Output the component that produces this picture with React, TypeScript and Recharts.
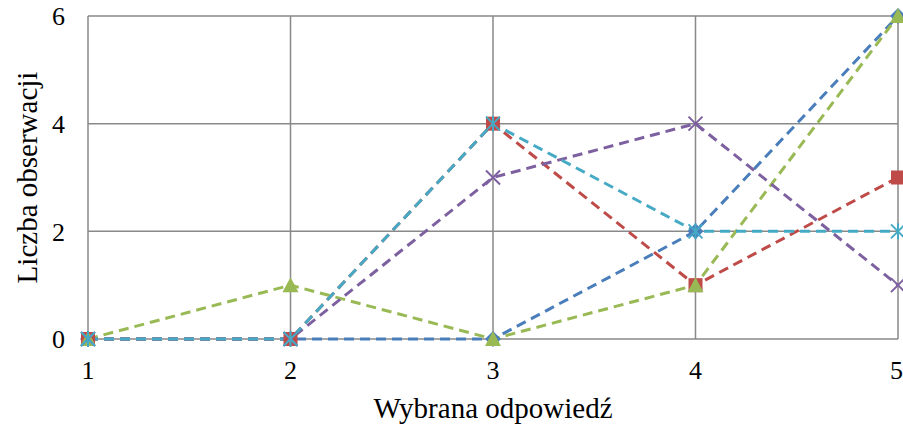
import { LineChart, Line, XAxis, YAxis, CartesianGrid } from 'recharts';

const ANSWERS = [1, 2, 3, 4, 5];
const SERIES_A = [0, 0, 0, 2, 6];
const SERIES_B = [0, 0, 4, 1, 3];
const SERIES_C = [0, 1, 0, 1, 6];
const SERIES_D = [0, 0, 3, 4, 1];
const SERIES_E = [0, 0, 4, 2, 2];
const Y_TICKS = [0, 2, 4, 6];

const FONT = '"Liberation Serif", "Times New Roman", serif';

type Shape = 'diamond' | 'square' | 'triangle' | 'cross' | 'star';

const SERIES: { key: string; values: number[]; color: string; shape: Shape }[] = [
  { key: 'a', values: SERIES_A, color: '#4A7EBB', shape: 'diamond' },
  { key: 'b', values: SERIES_B, color: '#BE4B48', shape: 'square' },
  { key: 'c', values: SERIES_C, color: '#98B954', shape: 'triangle' },
  { key: 'd', values: SERIES_D, color: '#7D60A0', shape: 'cross' },
  { key: 'e', values: SERIES_E, color: '#46AAC5', shape: 'star' },
];

const data = ANSWERS.map((x, i) => {
  const row: Record<string, number> = { x };
  for (const s of SERIES) row[s.key] = s.values[i];
  return row;
});

function marker(shape: Shape, color: string) {
  return (props: any) => {
    const { cx, cy, index } = props;
    const r = 7;
    const k = `m-${shape}-${index}`;
    if (shape === 'diamond')
      return <path key={k} d={`M${cx},${cy - r - 1}L${cx + r + 1},${cy}L${cx},${cy + r + 1}L${cx - r - 1},${cy}Z`} fill={color} />;
    if (shape === 'square')
      return <rect key={k} x={cx - r} y={cy - r} width={2 * r} height={2 * r} fill={color} />;
    if (shape === 'triangle')
      return <path key={k} d={`M${cx},${cy - r - 1}L${cx + r + 1},${cy + r}L${cx - r - 1},${cy + r}Z`} fill={color} />;
    const cross = `M${cx - r},${cy - r}L${cx + r},${cy + r}M${cx + r},${cy - r}L${cx - r},${cy + r}`;
    if (shape === 'cross')
      return <path key={k} d={cross} stroke={color} strokeWidth={2} fill="none" />;
    return (
      <path key={k} d={`${cross}M${cx},${cy - r - 1}L${cx},${cy + r + 1}`} stroke={color} strokeWidth={2} fill="none" />
    );
  };
}

export default function App() {
  return (
    <div style={{ position: 'absolute', left: 0, top: 0, width: 903, height: 426, background: '#fff' }}>
      <LineChart width={903} height={426} data={data} margin={{ top: 16, right: 5, bottom: 0, left: 0 }}>
        <CartesianGrid stroke="#898989" strokeWidth={1.5} />
        <XAxis
          dataKey="x"
          type="number"
          domain={[1, 5]}
          ticks={ANSWERS}
          height={87}
          axisLine={false}
          tickLine={false}
          tickMargin={16}
          tick={{ fill: '#000', fontSize: 26, fontFamily: FONT }}
          label={{
            value: 'Wybrana odpowiedź',
            position: 'insideBottom',
            offset: 8,
            fill: '#000',
            fontSize: 29,
            fontFamily: FONT,
          }}
        />
        <YAxis
          type="number"
          domain={[0, 6]}
          ticks={Y_TICKS}
          width={88}
          axisLine={false}
          tickLine={false}
          tickMargin={17}
          tick={{ fill: '#000', fontSize: 26, fontFamily: FONT }}
          label={{
            content: ({ viewBox }: any) => {
              const x = viewBox.x + 37;
              const y = viewBox.y + viewBox.height / 2;
              return (
                <text
                  x={x}
                  y={y}
                  transform={`rotate(-90, ${x}, ${y})`}
                  textAnchor="middle"
                  fill="#000"
                  fontSize={29}
                  fontFamily={FONT}
                >
                  Liczba obserwacji
                </text>
              );
            },
          }}
        />
        {SERIES.map((s) => (
          <Line
            key={s.key}
            dataKey={s.key}
            type="linear"
            stroke={s.color}
            strokeWidth={3}
            strokeDasharray="10 6"
            dot={marker(s.shape, s.color)}
            activeDot={false}
            isAnimationActive={false}
          />
        ))}
      </LineChart>
    </div>
  );
}
